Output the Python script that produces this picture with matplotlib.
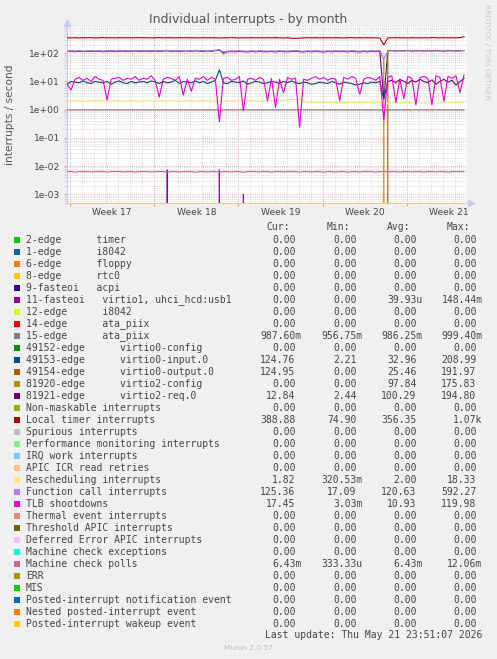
import numpy as np
import pandas as pd
import matplotlib
matplotlib.use("Agg")
import matplotlib.pyplot as plt
import matplotlib.dates as mdates
from matplotlib.ticker import LogLocator, FuncFormatter, NullFormatter
from matplotlib.patches import Rectangle

# ============================================================
# 0. Figure size (pixels) and sample times
# ============================================================
W, H = 497, 659

TIMES = pd.date_range("2026-04-18 18:00", periods=100, freq="8h")
X_START = pd.Timestamp("2026-04-18 18:00")
X_END = pd.Timestamp("2026-05-22 00:00")

# ============================================================
# 1. Series (interrupts / second)
# ============================================================
virtio1_usb = [
    0, 0, 0, 0, 0, 0, 0, 0, 0, 0,
    0, 0, 0, 0, 0, 0, 0, 0, 0, 0,
    0, 0, 0, 0, 0, 0.0072, 0, 0, 0, 0,
    0, 0, 0, 0, 0, 0, 0, 0, 0.0072, 0,
    0, 0, 0, 0, 0.001, 0, 0, 0, 0, 0,
    0, 0, 0, 0, 0, 0, 0, 0, 0, 0,
    0, 0, 0, 0, 0, 0, 0, 0, 0, 0,
    0, 0, 0, 0, 0, 0, 0, 0, 0, 0,
    0, 0, 0, 0, 0, 0, 0, 0, 0, 0,
    0, 0, 0, 0, 0, 0, 0, 0, 0, 0,
]

ata_piix_15 = [
    0.99, 0.988, 0.99, 0.989, 0.99, 0.988, 0.99, 0.989, 0.99, 0.988,
    0.99, 0.989, 0.988, 0.99, 0.989, 0.99, 0.988, 0.99, 0.989, 0.99,
    0.988, 0.99, 0.989, 0.99, 0.988, 0.99, 0.989, 0.99, 0.988, 0.99,
    0.989, 0.99, 0.988, 0.99, 0.989, 0.99, 0.988, 0.99, 0.98, 0.99,
    0.988, 0.99, 0.989, 0.99, 0.988, 0.99, 0.989, 0.99, 0.988, 0.99,
    0.989, 0.99, 0.988, 0.99, 0.989, 0.99, 0.988, 0.99, 0.989, 0.99,
    0.988, 0.99, 0.989, 0.99, 0.988, 0.99, 0.989, 0.99, 0.988, 0.99,
    0.989, 0.99, 0.988, 0.99, 0.989, 0.99, 0.988, 0.99, 0.989, 0.96,
    0.988, 0.99, 0.989, 0.99, 0.988, 0.99, 0.989, 0.99, 0.988, 0.99,
    0.989, 0.99, 0.988, 0.99, 0.989, 0.99, 0.988, 0.99, 0.989, 0.988,
]

virtio0_input = [
    8, 10, 9.5, 9, 10.5, 9, 8.5, 10, 9.5, 9,
    10, 8, 9.5, 10.5, 9, 8.5, 10, 9, 9.5, 10,
    9, 10.5, 9.5, 8.5, 10, 9, 9.5, 11, 8.5, 10,
    9.5, 9, 10.5, 9, 10, 8.5, 9.5, 11, 26, 9,
    8.5, 10, 9.5, 9, 10.5, 8, 9, 10, 9.5, 8.5,
    9, 10, 9.5, 8.5, 10, 9, 10.5, 9, 8.5, 9.5,
    9, 8, 8.5, 9.5, 9, 8.5, 10, 9, 8, 9.5,
    9, 8.5, 7.5, 8, 9, 8.5, 9.5, 9, 10, 2.3,
    122, 125, 119, 124, 121, 126, 120, 123, 125, 121,
    124, 120, 126, 122, 119, 125, 123, 121, 124, 125,
]

virtio0_output = [
    0, 0, 0, 0, 0, 0, 0, 0, 0, 0,
    0, 0, 0, 0, 0, 0, 0, 0, 0, 0,
    0, 0, 0, 0, 0, 0, 0, 0, 0, 0,
    0, 0, 0, 0, 0, 0, 0, 0, 0, 0,
    0, 0, 0, 0, 0, 0, 0, 0, 0, 0,
    0, 0, 0, 0, 0, 0, 0, 0, 0, 0,
    0, 0, 0, 0, 0, 0, 0, 0, 0, 0,
    0, 0, 0, 0, 0, 0, 0, 0, 0, 0,
    124, 126, 123, 125, 122, 127, 124, 126, 123, 125,
    127, 124, 126, 125, 123, 127, 125, 124, 126, 125,
]

virtio2_config = [
    117, 121, 119, 123, 118, 120, 122, 119, 121, 118,
    120, 123, 119, 121, 124, 120, 122, 125, 121, 123,
    124, 121, 125, 122, 124, 126, 123, 125, 122, 124,
    125, 123, 126, 124, 122, 125, 123, 127, 134, 95,
    117, 120, 118, 121, 119, 117, 120, 118, 121, 119,
    118, 120, 117, 121, 119, 118, 120, 122, 119, 117,
    120, 118, 121, 119, 117, 120, 118, 121, 119, 120,
    118, 121, 119, 117, 120, 118, 121, 119, 123, 60,
    0, 0, 0, 0, 0, 0, 0, 0, 0, 0,
    0, 0, 0, 0, 0, 0, 0, 0, 0, 0,
]

virtio2_req = [
    116, 119, 114, 118, 115, 117, 119, 116, 118, 114,
    117, 120, 115, 118, 121, 116, 119, 122, 117, 120,
    121, 117, 122, 118, 121, 123, 119, 122, 118, 121,
    122, 119, 123, 120, 118, 122, 119, 124, 130, 108,
    112, 116, 113, 117, 114, 112, 116, 113, 117, 114,
    113, 116, 112, 117, 114, 113, 116, 118, 114, 112,
    116, 113, 117, 114, 112, 116, 113, 117, 114, 116,
    113, 117, 114, 112, 116, 113, 117, 114, 119, 2.5,
    10, 11, 9, 12, 10, 8.5, 11, 9.5, 12, 10,
    9, 11.5, 8, 10, 12, 9.5, 11, 7.5, 10, 12.8,
]

local_timer = [
    355, 352, 358, 350, 356, 353, 357, 349, 355, 360,
    352, 356, 350, 358, 354, 357, 351, 355, 359, 353,
    356, 350, 354, 358, 352, 355, 357, 351, 356, 353,
    358, 352, 355, 350, 356, 354, 357, 353, 349, 355,
    352, 358, 354, 350, 356, 353, 357, 352, 355, 351,
    356, 354, 358, 352, 350, 355, 342, 338, 345, 352,
    356, 353, 357, 351, 355, 358, 352, 356, 354, 350,
    355, 357, 352, 356, 353, 358, 351, 355, 350, 200,
    352, 356, 358, 353, 355, 351, 357, 354, 352, 356,
    353, 358, 355, 351, 356, 354, 357, 352, 360, 388,
]

rescheduling = [
    2.0, 2.1, 2.05, 2.1, 2.0, 2.05, 2.1, 2.0, 2.1, 2.05,
    2.1, 2.0, 2.05, 2.1, 2.05, 2.0, 2.1, 2.05, 2.0, 2.1,
    2.05, 2.1, 2.0, 2.05, 2.1, 2.0, 2.05, 2.1, 2.05, 2.0,
    2.1, 2.05, 2.0, 2.1, 2.05, 2.1, 2.0, 2.05, 1.9, 2.05,
    2.1, 2.0, 2.05, 2.1, 2.0, 2.05, 2.1, 2.05, 2.0, 2.1,
    2.05, 2.1, 2.15, 2.1, 2.2, 2.25, 2.3, 2.25, 2.3, 2.2,
    1.85, 1.8, 1.82, 1.8, 1.78, 1.82, 1.8, 1.83, 1.8, 1.82,
    1.8, 1.82, 1.78, 1.8, 1.82, 1.8, 1.78, 1.82, 1.8, 0.9,
    1.8, 1.82, 1.8, 1.78, 1.8, 1.82, 1.72, 1.7, 1.72, 1.7,
    1.72, 1.7, 1.68, 1.72, 1.75, 1.8, 1.82, 1.8, 1.82, 1.82,
]

function_call = [
    118, 122, 120, 124, 119, 121, 123, 120, 122, 119,
    121, 124, 120, 122, 125, 121, 123, 126, 122, 124,
    125, 122, 126, 123, 125, 127, 124, 126, 123, 125,
    126, 124, 127, 125, 123, 126, 124, 128, 136, 92,
    118, 121, 119, 122, 120, 118, 121, 119, 122, 120,
    119, 121, 118, 122, 120, 119, 121, 123, 120, 118,
    121, 119, 122, 120, 118, 121, 119, 122, 120, 121,
    119, 122, 120, 118, 121, 119, 122, 120, 124, 60,
    121, 123, 120, 122, 119, 121, 123, 120, 122, 121,
    120, 122, 119, 121, 123, 120, 122, 119, 121, 125,
]

tlb_shootdowns = [
    8, 5.0, 12, 14, 11, 13, 10, 15, 12, 11,
    2.2, 12, 13, 14, 11, 13, 12, 15, 11, 13,
    12, 16, 11, 2.8, 12, 14, 13, 11, 15, 3.3,
    12, 4.5, 13, 12, 15, 11, 14, 12, 0.37, 13,
    14, 11, 12, 15, 0.92, 12, 13, 11, 14, 12,
    2.1, 13, 1.2, 12, 4.0, 14, 12, 13, 0.24, 12,
    11, 13, 15, 12, 14, 11, 13, 12, 2.1, 14,
    12, 15, 13, 3.5, 12, 14, 13, 11, 15, 0.43,
    14, 16, 1.8, 12, 2.5, 15, 13, 1.5, 14, 15,
    13, 1.5, 16, 14, 2.0, 15, 13, 16, 4.0, 17,
]

machine_check_polls = [
    0.0064, 0.0064, 0.0061, 0.0064, 0.0064, 0.0064, 0.0062, 0.0064, 0.0064, 0.0064,
    0.0061, 0.0064, 0.0064, 0.0064, 0.0062, 0.0064, 0.0064, 0.0061, 0.0064, 0.0064,
    0.0064, 0.0062, 0.0064, 0.0064, 0.0064, 0.0061, 0.0064, 0.0064, 0.0062, 0.0064,
    0.0064, 0.0064, 0.0061, 0.0064, 0.0064, 0.0062, 0.0064, 0.0064, 0.0061, 0.0064,
    0.0064, 0.0062, 0.0064, 0.0064, 0.0061, 0.0064, 0.0064, 0.0064, 0.0062, 0.0064,
    0.0064, 0.0061, 0.0064, 0.0064, 0.0062, 0.0064, 0.0064, 0.0064, 0.0061, 0.0064,
    0.0064, 0.0062, 0.0064, 0.0064, 0.0061, 0.0064, 0.0064, 0.0062, 0.0064, 0.0064,
    0.0061, 0.0064, 0.0064, 0.0062, 0.0064, 0.0064, 0.0064, 0.0061, 0.0064, 0.0064,
    0.0062, 0.0064, 0.0064, 0.0061, 0.0064, 0.0064, 0.0062, 0.0064, 0.0064, 0.0061,
    0.0064, 0.0064, 0.0062, 0.0064, 0.0064, 0.0061, 0.0064, 0.0064, 0.0064, 0.0064,
]

# drawing order follows the munin legend order
PLOT_SERIES = [
    (virtio1_usb, "#990099"),
    (ata_piix_15, "#8a7272"),
    (virtio0_input, "#00487D"),
    (virtio0_output, "#B35A00"),
    (virtio2_config, "#B38F00"),
    (virtio2_req, "#6B006B"),
    (local_timer, "#B30000"),
    (rescheduling, "#FFE680"),
    (function_call, "#AA80FF"),
    (tlb_shootdowns, "#EE00CC"),
    (machine_check_polls, "#CC6699"),
]

# ============================================================
# 2. Legend table
# ============================================================
LEGEND_NAMES = [
    "2-edge      timer",
    "1-edge      i8042",
    "6-edge      floppy",
    "8-edge      rtc0",
    "9-fasteoi   acpi",
    "11-fasteoi   virtio1, uhci_hcd:usb1",
    "12-edge      i8042",
    "14-edge      ata_piix",
    "15-edge      ata_piix",
    "49152-edge      virtio0-config",
    "49153-edge      virtio0-input.0",
    "49154-edge      virtio0-output.0",
    "81920-edge      virtio2-config",
    "81921-edge      virtio2-req.0",
    "Non-maskable interrupts",
    "Local timer interrupts",
    "Spurious interrupts",
    "Performance monitoring interrupts",
    "IRQ work interrupts",
    "APIC ICR read retries",
    "Rescheduling interrupts",
    "Function call interrupts",
    "TLB shootdowns",
    "Thermal event interrupts",
    "Threshold APIC interrupts",
    "Deferred Error APIC interrupts",
    "Machine check exceptions",
    "Machine check polls",
    "ERR",
    "MIS",
    "Posted-interrupt notification event",
    "Nested posted-interrupt event",
    "Posted-interrupt wakeup event",
]

LEGEND_COLORS = [
    "#00CC00", "#0066B3", "#FF8000", "#FFCC00", "#330099", "#990099",
    "#CCFF00", "#FF0000", "#808080", "#008F00", "#00487D", "#B35A00",
    "#B38F00", "#6B006B", "#8FB300", "#B30000", "#BEBEBE", "#80FF80",
    "#80C9FF", "#FFC080", "#FFE680", "#AA80FF", "#EE00CC", "#FF8080",
    "#666600", "#FFBFFF", "#00FFCC", "#CC6699", "#999900", "#00CC00",
    "#0066B3", "#FF8000", "#FFCC00",
]

CUR = ["0.00", "0.00", "0.00", "0.00", "0.00", "0.00", "0.00", "0.00",
       "987.60m", "0.00", "124.76", "124.95", "0.00", "12.84", "0.00",
       "388.88", "0.00", "0.00", "0.00", "0.00", "1.82", "125.36", "17.45",
       "0.00", "0.00", "0.00", "0.00", "6.43m", "0.00", "0.00", "0.00",
       "0.00", "0.00"]
MIN = ["0.00", "0.00", "0.00", "0.00", "0.00", "0.00", "0.00", "0.00",
       "956.75m", "0.00", "2.21", "0.00", "0.00", "2.44", "0.00",
       "74.90", "0.00", "0.00", "0.00", "0.00", "320.53m", "17.09", "3.03m",
       "0.00", "0.00", "0.00", "0.00", "333.33u", "0.00", "0.00", "0.00",
       "0.00", "0.00"]
AVG = ["0.00", "0.00", "0.00", "0.00", "0.00", "39.93u", "0.00", "0.00",
       "986.25m", "0.00", "32.96", "25.46", "97.84", "100.29", "0.00",
       "356.35", "0.00", "0.00", "0.00", "0.00", "2.00", "120.63", "10.93",
       "0.00", "0.00", "0.00", "0.00", "6.43m", "0.00", "0.00", "0.00",
       "0.00", "0.00"]
MAX = ["0.00", "0.00", "0.00", "0.00", "0.00", "148.44m", "0.00", "0.00",
       "999.40m", "0.00", "208.99", "191.97", "175.83", "194.80", "0.00",
       "1.07k", "0.00", "0.00", "0.00", "0.00", "18.33", "592.27", "119.98",
       "0.00", "0.00", "0.00", "0.00", "12.06m", "0.00", "0.00", "0.00",
       "0.00", "0.00"]

TEXT_COLOR = "#444444"
MONO = "DejaVu Sans Mono"
LEGEND_SIZE = 7.0


def fx(px):
    return px / W


def fy(py):
    return 1 - py / H


# ============================================================
# 3. Graph area
# ============================================================
def draw_graph(fig):
    ax = fig.add_axes([fx(67), fy(203), fx(400), (203 - 26) / H])
    ax.set_facecolor("white")

    for values, color in PLOT_SERIES:
        ax.plot(TIMES, values, color=color, linewidth=0.8, zorder=3)

    ax.set_yscale("log", nonpositive="clip")
    ax.set_ylim(4.9e-4, 9.3e2)
    ax.set_xlim(X_START, X_END)

    ax.yaxis.set_major_locator(LogLocator(base=10, numticks=12))
    ax.yaxis.set_minor_locator(LogLocator(base=10, subs=np.arange(2, 10), numticks=12))
    ax.yaxis.set_major_formatter(FuncFormatter(lambda v, pos: f"{v:.0e}"))
    ax.yaxis.set_minor_formatter(NullFormatter())

    ax.xaxis.set_major_locator(mdates.WeekdayLocator(byweekday=mdates.SU))
    ax.xaxis.set_minor_locator(mdates.DayLocator())
    ax.xaxis.set_major_formatter(NullFormatter())

    ax.grid(which="minor", color="#cfcfcf", linestyle=(0, (1, 1.5)), linewidth=0.6, zorder=1)
    ax.grid(which="major", color="#f29a9a", linestyle=(0, (1, 1.5)), linewidth=0.6, zorder=1)
    ax.set_axisbelow(True)

    ax.tick_params(axis="y", which="major", length=2, color="#f29a9a",
                   labelsize=6.6, labelcolor=TEXT_COLOR, pad=3)
    ax.tick_params(axis="y", which="minor", length=2, color="#cfcfcf")
    ax.tick_params(axis="x", which="major", length=2, color="#f29a9a")
    ax.tick_params(axis="x", which="minor", length=0)

    for side in ["top", "right"]:
        ax.spines[side].set_visible(False)
    ax.spines["left"].set_color("#c4c8f4")
    ax.spines["bottom"].set_color("#e2cf88")

    # axis arrows
    ax.plot([0], [1.015], marker="^", markersize=4, color="#c4c8f4",
            transform=ax.transAxes, clip_on=False)
    ax.plot([1.01], [0], marker=">", markersize=4, color="#c4c8f4",
            transform=ax.transAxes, clip_on=False)

    # week labels centred between Sunday grid lines
    sundays = pd.date_range("2026-04-19", "2026-05-17", freq="7D")
    for sunday in sundays:
        mid = sunday + pd.Timedelta(hours=84)
        week = (sunday + pd.Timedelta(days=1)).isocalendar().week
        ax.text(mdates.date2num(mid), -0.055, f"Week {week}",
                transform=ax.get_xaxis_transform(), ha="center", va="center",
                fontsize=6.6, color=TEXT_COLOR, clip_on=False)

    return ax


# ============================================================
# 4. Legend block (munin style)
# ============================================================
def draw_legend(fig):
    col_right = [301.5, 362.5, 422.5, 482.5]
    char_w = 5.97

    for label, right in zip(["Cur:", "Min:", "Avg:", "Max:"], col_right):
        fig.text(fx(right - 2 * char_w), fy(227), label, ha="right", va="center",
                 family=MONO, fontsize=LEGEND_SIZE, color=TEXT_COLOR)

    for k, name in enumerate(LEGEND_NAMES):
        y = 240 + 12 * k
        fig.patches.append(Rectangle((fx(14), fy(y + 3)), fx(6), 6 / H,
                                     transform=fig.transFigure,
                                     facecolor=LEGEND_COLORS[k], edgecolor="none"))
        fig.text(fx(26), fy(y), name, ha="left", va="center",
                 family=MONO, fontsize=LEGEND_SIZE, color=TEXT_COLOR)
        for values, right in zip([CUR, MIN, AVG, MAX], col_right):
            s = values[k]
            x = right if s[-1].isalpha() else right - char_w
            fig.text(fx(x), fy(y), s, ha="right", va="center",
                     family=MONO, fontsize=LEGEND_SIZE, color=TEXT_COLOR)

    fig.text(fx(482.5), fy(635.5), "Last update: Thu May 21 23:51:07 2026",
             ha="right", va="center", family=MONO, fontsize=LEGEND_SIZE,
             color=TEXT_COLOR)


# ============================================================
# 5. Main
# ============================================================
def main():
    fig = plt.figure(figsize=(W / 100, H / 100), dpi=100)
    fig.patch.set_facecolor("#f0f0f0")

    draw_graph(fig)

    fig.text(fx(248), fy(19), "Individual interrupts - by month", ha="center",
             va="center", fontsize=9, color="#555555")
    fig.text(fx(10), fy(115), "interrupts / second", rotation=90, ha="center",
             va="center", fontsize=7.6, color="#555555")
    fig.text(fx(487), fy(52), "RRDTOOL / TOBI OETIKER", rotation=-90, ha="center",
             va="center", fontsize=5.4, color="#c8c8c8")
    fig.text(fx(248), fy(648), "Munin 2.0.57", ha="center", va="center",
             fontsize=5.4, color="#c0c0c0")

    draw_legend(fig)

    fig.savefig("out.png", dpi=100, facecolor=fig.get_facecolor())
    plt.close(fig)


if __name__ == "__main__":
    main()
